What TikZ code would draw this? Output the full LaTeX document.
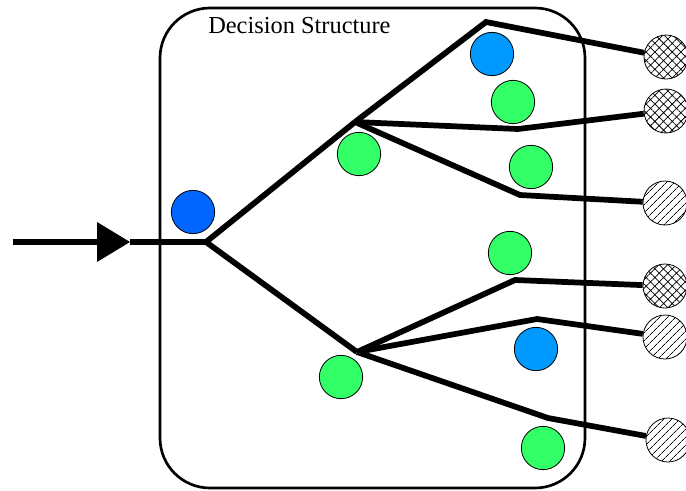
\documentclass[tikz,border=0pt]{standalone}
\usepackage{fontspec}
\setmainfont{Liberation Serif}
\usetikzlibrary{arrows.meta}
\usetikzlibrary{patterns.meta}

\definecolor{darkBlue}{HTML}{0066FF}
\definecolor{lightBlue}{HTML}{0099FF}
\definecolor{tokenGreen}{HTML}{33FF66}

\begin{document}
\begin{tikzpicture}[x = 0.75pt, y = -0.75pt]
	\tikzstyle{wireStyle} = [line width = 4.3pt, black]
	\tikzstyle{tokenStyle} = [shape = circle, minimum size = 32.5pt, inner sep = 0pt, draw, line width = 0.6pt]
	\tikzstyle{crossStyle} = [shape = circle, minimum size = 33pt, inner sep = 0pt, draw, line width = 0.6pt, pattern = {Hatch[angle = 45, distance = 4.6pt, line width = 0.55pt]}]
	\tikzstyle{hatchStyle} = [shape = circle, minimum size = 33pt, inner sep = 0pt, draw, line width = 0.6pt, pattern = {Lines[angle = 45, distance = 4pt, line width = 0.55pt]}]
	\useasboundingbox (0,0) rectangle (686,490);
	% frame and title
	\draw[line width = 2pt, rounded corners = 37.5pt] (160,8) rectangle (585,488);
	\node[anchor = base west, inner sep = 0pt, font = \fontsize{18.3}{22}\selectfont] (title) at (208,33) {Decision Structure};
	% branch points
	\coordinate (in) at (13,242);
	\coordinate (arrowTip) at (130,242);
	\coordinate (root) at (206,242);
	\coordinate (hubUp) at (355,122);
	\coordinate (hubDown) at (357,352);
	\coordinate (peak) at (486,22);
	\coordinate (bendUpMid) at (518,129);
	\coordinate (bendUpLow) at (520,195);
	\coordinate (bendDownTop) at (515,280);
	\coordinate (bendDownMid) at (537,319);
	\coordinate (bendDownLow) at (548,418);
	% outcomes
	\node[crossStyle] (t1) at (666,57) {};
	\node[crossStyle] (t2) at (666,111) {};
	\node[hatchStyle] (t3) at (665,203) {};
	\node[crossStyle] (t4) at (665,286) {};
	\node[hatchStyle] (t5) at (665,337) {};
	\node[hatchStyle] (t6) at (668,440) {};
	% wires
	\draw[wireStyle, -{Triangle[length = 24.75pt, width = 30pt, line width = 0pt]}] (in) -- (arrowTip);
	\draw[wireStyle] (arrowTip) -- (root);
	\draw[wireStyle] (root) -- (hubUp);
	\draw[wireStyle] (root) -- (hubDown);
	\draw[wireStyle] (hubUp) -- (peak) -- (t1);
	\draw[wireStyle] (hubUp) -- (bendUpMid) -- (t2);
	\draw[wireStyle] (hubUp) -- (bendUpLow) -- (t3);
	\draw[wireStyle] (hubDown) -- (bendDownTop) -- (t4);
	\draw[wireStyle] (hubDown) -- (bendDownMid) -- (t5);
	\draw[wireStyle] (hubDown) -- (bendDownLow) -- (t6);
	% tokens
	\node[tokenStyle, fill = darkBlue] (b0) at (193,212) {};
	\node[tokenStyle, fill = lightBlue] (b1) at (492,54) {};
	\node[tokenStyle, fill = lightBlue] (b2) at (536,349) {};
	\node[tokenStyle, fill = tokenGreen] (g1) at (513,102) {};
	\node[tokenStyle, fill = tokenGreen] (g2) at (359,154) {};
	\node[tokenStyle, fill = tokenGreen] (g3) at (531,167) {};
	\node[tokenStyle, fill = tokenGreen] (g4) at (510,253) {};
	\node[tokenStyle, fill = tokenGreen] (g5) at (341,377) {};
	\node[tokenStyle, fill = tokenGreen] (g6) at (543,448) {};
\end{tikzpicture}
\end{document}
